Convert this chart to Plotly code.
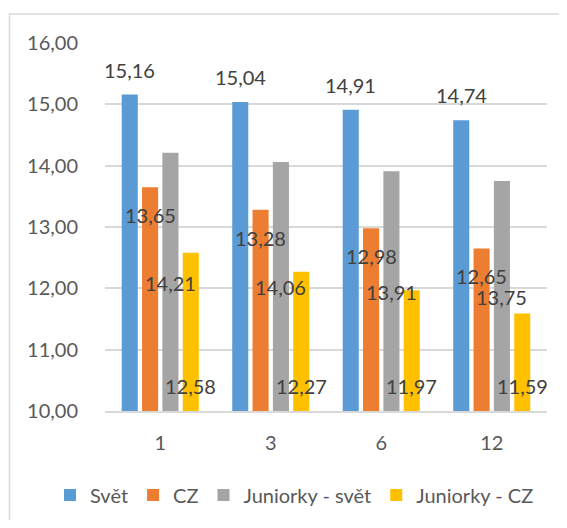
import plotly.graph_objects as go

# ---- data ----
categories = ["1", "3", "6", "12"]
series_names = ["Svět", "CZ", "Juniorky - svět", "Juniorky - CZ"]
svet = [15.16, 15.04, 14.91, 14.74]
cz = [13.65, 13.28, 12.98, 12.65]
jun_svet = [14.21, 14.06, 13.91, 13.75]
jun_cz = [12.58, 12.27, 11.97, 11.59]
y_tick_vals = [10, 11, 12, 13, 14, 15, 16]
y_tick_labels = ["10,00", "11,00", "12,00", "13,00", "14,00", "15,00", "16,00"]

# ---- style ----
colors = ["#5B9BD5", "#ED7D31", "#A5A5A5", "#FFC000"]
FONT = "Lato"
FS = 20
TICK_COLOR = "#595959"
LABEL_COLOR = "#404040"
GRID = "#D9D9D9"
OFF = 8                      # default page body margin
W, H = 567 - 2 * OFF, 528 - 2 * OFF
# plot area in page pixels: x 105..547, y 43..411
ML = 105 - OFF
MR = W - (547 - OFF)
MT = 43 - OFF
MB = H - (411 - OFF)
BARGAP = 0.264
BARGROUPGAP = 0.21
Y_MIN, Y_MAX = 10, 16

all_series = [svet, cz, jun_svet, jun_cz]
xpos = list(range(len(categories)))

fig = go.Figure()
for name, vals, col in zip(series_names, all_series, colors):
    fig.add_trace(go.Bar(
        x=xpos, y=vals, name=name,
        marker=dict(color=col, line=dict(width=0)),
    ))

def fmt(v):
    return f"{v:.2f}".replace(".", ",")

# data labels (Excel-style positions: outside end, inside end, center, inside base)
n = len(all_series)
slot = (1 - BARGAP) / n
offsets = [-(1 - BARGAP) / 2 + slot * (k + 0.5) for k in range(n)]
annotations = []
for k, vals in enumerate(all_series):
    for i, v in enumerate(vals):
        x = xpos[i] + offsets[k]
        if k == 0:
            y, ys = v, 25
        elif k == 1:
            y, ys = v, -28
        elif k == 2:
            y, ys = (v + Y_MIN) / 2, -1
        else:
            y, ys = Y_MIN, 25
        annotations.append(dict(
            x=x, y=y, xref="x", yref="y", text=fmt(v), showarrow=False,
            xanchor="center", yanchor="middle", yshift=ys,
            font=dict(family=FONT, size=FS, color=LABEL_COLOR),
        ))

plot_w = W - ML - MR
plot_h = H - MT - MB

def px_x(p):  # page pixel -> paper
    return (p - OFF - ML) / plot_w

def px_y(p):
    return (H - MB - (p - OFF)) / plot_h

fig.update_layout(
    width=W, height=H,
    margin=dict(l=ML, r=MR, t=MT, b=MB, pad=0, autoexpand=False),
    paper_bgcolor="white", plot_bgcolor="white",
    barmode="group", bargap=BARGAP, bargroupgap=BARGROUPGAP,
    font=dict(family=FONT, size=FS, color=TICK_COLOR),
    showlegend=True,
    legend=dict(
        orientation="h", x=px_x(50), y=px_y(495), xanchor="left", yanchor="middle",
        font=dict(family=FONT, size=FS, color=TICK_COLOR),
        itemclick=False, traceorder="normal", bgcolor="rgba(0,0,0,0)",
    ),
    xaxis=dict(
        range=[-0.5, len(categories) - 0.5],
        tickmode="array", tickvals=xpos, ticktext=categories,
        showgrid=False, zeroline=False, showline=True, linecolor=GRID, linewidth=1.5,
        ticks="", ticklabelstandoff=13,
        tickfont=dict(family=FONT, size=FS, color=TICK_COLOR),
        fixedrange=True,
    ),
    yaxis=dict(
        range=[Y_MIN, Y_MAX],
        tickmode="array", tickvals=y_tick_vals, ticktext=y_tick_labels,
        showgrid=True, gridcolor=GRID, gridwidth=1.5, zeroline=False, showline=False,
        ticks="", ticklabelstandoff=26,
        tickfont=dict(family=FONT, size=FS, color=TICK_COLOR),
        fixedrange=True,
    ),
    annotations=annotations,
    shapes=[dict(
        type="rect", xref="paper", yref="paper",
        x0=px_x(9.5), x1=px_x(600), y0=px_y(600), y1=px_y(14),
        line=dict(color=GRID, width=1.5), fillcolor="rgba(0,0,0,0)", layer="below",
    )],
)

fig.write_html("out.html", config={"displayModeBar": False})
